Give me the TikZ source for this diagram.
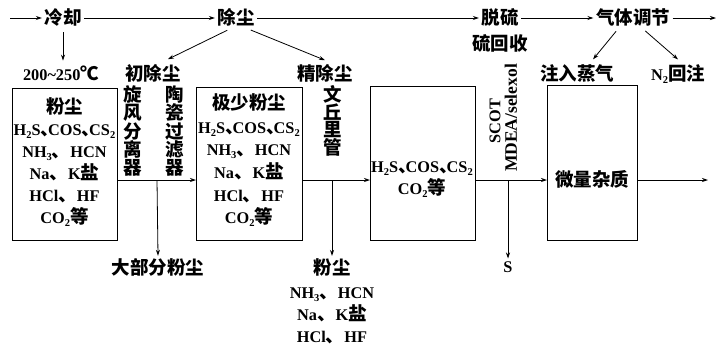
\documentclass[tikz,border=0pt]{standalone}
\usepackage{fontspec}
\setmainfont{Liberation Serif}
\newfontfamily\cjkf{Noto Sans CJK SC}
\usetikzlibrary{arrows.meta}
\newcommand\cj[1]{{\cjkf\fontsize{18.5}{20}\selectfont #1}}
\newcommand\sub[1]{\raisebox{-0.45ex}{\fontsize{10.5}{10}\selectfont\bfseries #1}}
\newcommand\dn{\makebox[0.46em][l]{\cj{、}}}
\newcommand\dd{\cj{、}}
\begin{document}
\begin{tikzpicture}[x=1pt,y=-1pt,
  txt/.style={inner sep=2.5pt,anchor=base,font=\fontsize{16.3}{20}\selectfont\bfseries},
  box/.style={draw,line width=0.8pt,inner sep=0pt,anchor=north west},
  ln/.style={line width=0.8pt},
  arr/.style={line width=0.8pt,-{Stealth[length=6pt,width=4pt]}}]
\useasboundingbox (0,0) rectangle (722,349);
% top row
\coordinate (s0) at (10,18);
\node[txt] (lq) at (63,24.5) {\cj{冷却}};
\node[txt] (cc) at (236,24.5) {\cj{除尘}};
\node[txt] (tl) at (500,24.5) {\cj{脱硫}};
\node[txt] (hs) at (500,50) {\cj{硫回收}};
\node[txt] (qt) at (633,24.5) {\cj{气体调节}};
\coordinate (eT) at (716,18);
\draw[arr] (s0) -- (s0 -| lq.west);
\draw[arr] (lq.east |- s0) -- (cc.west |- s0);
\draw[arr] (cc.east |- s0) -- (tl.west |- s0);
\draw[arr] (tl.east |- s0) -- (qt.west |- s0);
\draw[arr] (qt.east |- s0) -- (eT);
% second row
\node[txt] (t200) at (61,80) {200\textasciitilde 250\cj{℃}};
\node[txt] (ccc) at (153,80) {\cj{初除尘}};
\node[txt] (jcc) at (325,80) {\cj{精除尘}};
\node[txt] (zr) at (577,80) {\cj{注入蒸气}};
\node[txt] (nh) at (678,80) {N\sub{2}\cj{回注}};
\draw[arr,shorten <=3pt,shorten >=2pt] (lq.south) -- (t200.north -| lq.south);
\draw[arr,shorten <=3pt] ([xshift=-6pt]cc.south) -- ([xshift=15pt,yshift=2pt]ccc.north);
\draw[arr,shorten <=3pt] ([xshift=12pt]cc.south) -- ([yshift=1pt]jcc.north);
\draw[arr,shorten <=3pt] ([xshift=-15pt]qt.south) -- ([xshift=16pt,yshift=2pt]zr.north);
\draw[arr,shorten <=3pt] ([xshift=10pt]qt.south) -- ([yshift=2pt]nh.north);
% boxes
\node[box,minimum width=105pt,minimum height=152pt] (b1) at (12,88) {};
\node[box,minimum width=106pt,minimum height=153pt] (b2) at (196,87) {};
\node[box,minimum width=105pt,minimum height=154pt] (b3) at (370,86) {};
\node[box,minimum width=90pt,minimum height=155pt] (b4) at (547,85) {};
% box 1 text
\node[txt] (b1a) at (64.5,113.5) {\cj{粉尘}};
\node[txt] (b1b) at (64.5,135) {H\sub{2}S\dn COS\dn CS\sub{2}};
\node[txt] (b1c) at (64.5,157) {NH\sub{3}\dd HCN};
\node[txt] (b1d) at (64.5,179) {Na\dd K\cj{盐}};
\node[txt] (b1e) at (64.5,201) {HCl\dd HF};
\node[txt] (b1f) at (64.5,223.5) {CO\sub{2}\cj{等}};
% box 2 text
\node[txt] (b2a) at (249,109.5) {\cj{极少粉尘}};
\node[txt] (b2b) at (249,133) {H\sub{2}S\dn COS\dn CS\sub{2}};
\node[txt] (b2c) at (249,155) {NH\sub{3}\dd HCN};
\node[txt] (b2d) at (249,178) {Na\dd K\cj{盐}};
\node[txt] (b2e) at (249,201) {HCl\dd HF};
\node[txt] (b2f) at (249,223.5) {CO\sub{2}\cj{等}};
% box 3 text
\node[txt] (b3a) at (422,172) {H\sub{2}S\dn COS\dn CS\sub{2}};
\node[txt] (b3b) at (422,194) {CO\sub{2}\cj{等}};
% box 4 text
\node[txt] (b4a) at (592,186.5) {\cj{微量杂质}};
% vertical labels
\foreach \c [count=\i from 0] in {旋,风,分,离,器}
  \node[txt] (xf\i) at (133,101.5+18.3*\i) {\cj{\c}};
\foreach \c [count=\i from 0] in {陶,瓷,过,滤,器}
  \node[txt] (tc\i) at (175,101.5+18.3*\i) {\cj{\c}};
\foreach \c [count=\i from 0] in {文,丘,里,管}
  \node[txt] (wq\i) at (333,101.5+17.7*\i) {\cj{\c}};
\node[txt,anchor=center,rotate=90] (scot) at (495,121) {SCOT};
\node[txt,anchor=center,rotate=90,font=\fontsize{17.5}{20}\selectfont\bfseries] (mdea) at (511,118) {MDEA/selexol};
% main flow
\coordinate (j1) at (157,180);
\coordinate (j2) at (332,180);
\coordinate (j3) at (508,180);
\coordinate (eM) at (708,180);
\draw[arr] (b1.east |- j1) -- (b2.west |- j1);
\draw[arr] (b2.east |- j2) -- (b3.west |- j2);
\draw[arr] (b3.east |- j3) -- (b4.west |- j3);
\draw[arr] (b4.east |- j3) -- (eM);
% bottom outputs
\node[txt] (dbf) at (158,274.5) {\cj{大部分粉尘}};
\node[txt] (fc) at (332,274.5) {\cj{粉尘}};
\node[txt] (fc2) at (332,298) {NH\sub{3}\dd HCN};
\node[txt] (fc3) at (332,320) {Na\dd K\cj{盐}};
\node[txt] (fc4) at (332,342) {HCl\dd HF};
\node[txt] (ss) at (508,272) {S};
\draw[arr] (j1) -- (dbf.north);
\draw[arr] (j2) -- (fc.north);
\draw[arr] (j3) -- (ss.north);
\end{tikzpicture}
\end{document}
